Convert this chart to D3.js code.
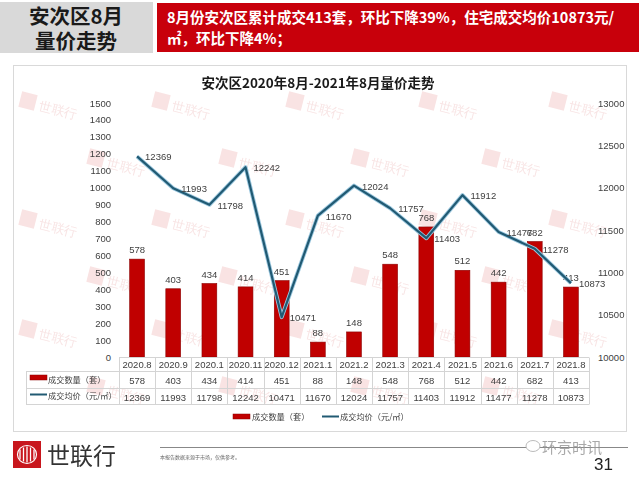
<!DOCTYPE html>
<html><head><meta charset="utf-8">
<script src="https://cdn.jsdelivr.net/npm/d3@7"></script>
<style>
html,body{margin:0;padding:0;background:#fff;}
svg{display:block;font-family:"Noto Sans CJK SC","Noto Sans",sans-serif;}
</style></head>
<body><svg id="c" width="640" height="480"></svg>
<script>
const categories = ["2020.8","2020.9","2020.1","2020.11","2020.12","2021.1","2021.2","2021.3","2021.4","2021.5","2021.6","2021.7","2021.8"];
const volume = [578,403,434,414,451,88,148,548,768,512,442,682,413];
const price = [12369,11993,11798,12242,10471,11670,12024,11757,11403,11912,11477,11278,10873];
const leftTicks = [0,100,200,300,400,500,600,700,800,900,1000,1100,1200,1300,1400,1500];
const rightTicks = [10000,10500,11000,11500,12000,12500,13000];
const seriesNames = ["成交数量（套）","成交均价（元/㎡）"];
const headTitle = ["安次区8月","量价走势"];
const headText = ["8月份安次区累计成交413套，环比下降39%，住宅成交均价10873元/","㎡，环比下降4%；"];
const chartTitle = "安次区2020年8月-2021年8月量价走势";

const svg = d3.select("#c");
const RED = "#c00000", LINE = "#215a73", TXT = "#404040";
const NUMF = "'Liberation Sans','Noto Sans',sans-serif";

// header
svg.append("rect").attr("x",0).attr("y",2).attr("width",153).attr("height",51).attr("fill","#d9d9d9");
svg.append("rect").attr("x",157).attr("y",3).attr("width",482).attr("height",49).attr("fill","#c8000b");
svg.selectAll(".ht").data(headTitle).join("text")
  .attr("x",76).attr("y",(d,i)=>24+i*25).attr("text-anchor","middle")
  .attr("font-size",20.5).attr("font-weight","bold").attr("fill","#1a1a1a").text(d=>d);
svg.selectAll(".hx").data(headText).join("text")
  .attr("x",167).attr("y",(d,i)=>23+i*21)
  .attr("font-size",14.5).attr("font-weight","bold").attr("fill","#fff").text(d=>d);

// chart frame
svg.append("rect").attr("x",13.5).attr("y",65.5).attr("width",613).attr("height",366)
  .attr("fill","#fff").attr("stroke","#d9d9d9");

// watermarks
const wm = svg.append("g").attr("opacity",0.4);
const rowsY = [100,157,218,275,328,385];
rowsY.forEach((y,ri)=>{
  const xs = ri%2===0 ? [20,153,287,420,550] : [88,220,352,483];
  xs.forEach(x=>{
    const g = wm.append("g").attr("transform",`translate(${x},${y}) rotate(14)`);
    g.append("rect").attr("x",0).attr("y",-9).attr("width",16).attr("height",16).attr("fill","#f0b9b9");
    g.append("text").attr("x",20).attr("y",5).attr("font-size",13).attr("font-family","serif")
      .attr("fill","#eebdbd").text("世联行");
  });
});

// title
svg.append("text").attr("x",318).attr("y",88).attr("text-anchor","middle")
  .attr("font-size",13.5).attr("font-weight","bold").attr("fill","#1a1a1a").text(chartTitle);

// scales
const x = d3.scaleBand().domain(categories).range([119,589]).paddingInner(0.59).paddingOuter(0.295);
const yL = d3.scaleLinear().domain([0,1500]).range([357,103]);
const yR = d3.scaleLinear().domain([10000,13000]).range([357,103]);
const cx = d => x(d)+x.bandwidth()/2;

// axes
const axL = svg.append("g").attr("transform","translate(111,0)")
  .call(d3.axisLeft(yL).tickValues(leftTicks).tickFormat(d3.format("d")).tickSize(0).tickPadding(0));
axL.select(".domain").remove();
axL.selectAll("text").attr("font-size",9.5).attr("fill",TXT).attr("font-family",NUMF);
const axR = svg.append("g").attr("transform","translate(598,0)")
  .call(d3.axisRight(yR).tickValues(rightTicks).tickFormat(d3.format("d")).tickSize(0).tickPadding(0));
axR.select(".domain").remove();
axR.selectAll("text").attr("font-size",9.5).attr("fill",TXT).attr("font-family",NUMF);

// bars
svg.append("g").selectAll("rect").data(volume).join("rect")
  .attr("x",(d,i)=>x(categories[i])).attr("width",x.bandwidth())
  .attr("y",d=>yL(d)).attr("height",d=>yL(0)-yL(d))
  .attr("fill",RED).attr("stroke","#8c0000").attr("stroke-width",0.6);
svg.append("g").selectAll("text").data(volume).join("text")
  .attr("x",(d,i)=>cx(categories[i])).attr("y",d=>yL(d)-6)
  .attr("text-anchor","middle").attr("font-size",9.5).attr("fill",TXT)
  .attr("font-family",NUMF).text(d=>d);

// line
const lineGen = d3.line().x((d,i)=>cx(categories[i])).y(d=>yR(d));
svg.append("path").datum(price).attr("d",lineGen).attr("fill","none")
  .attr("stroke","#9cc8df").attr("stroke-width",4).attr("stroke-linejoin","round");
svg.append("path").datum(price).attr("d",lineGen).attr("fill","none")
  .attr("stroke",LINE).attr("stroke-width",2.2).attr("stroke-linejoin","round");
svg.append("g").selectAll("text").data(price).join("text")
  .attr("x",(d,i)=>cx(categories[i])+8).attr("y",d=>yR(d)+4)
  .attr("font-size",9.5).attr("fill",TXT)
  .attr("font-family",NUMF).text(d=>d);

// data table
const tbl = svg.append("g").attr("stroke","#d4d4d4").attr("stroke-width",1);
const step = x.step();
const x0 = 119, x1 = 589;
[357.5].forEach(y=>tbl.append("line").attr("x1",x0).attr("x2",x1).attr("y1",y).attr("y2",y));
[371.5,388.5,404.5].forEach(y=>tbl.append("line").attr("x1",26).attr("x2",x1).attr("y1",y).attr("y2",y));
tbl.append("line").attr("x1",26.5).attr("x2",26.5).attr("y1",371.5).attr("y2",404.5);
d3.range(categories.length+1).forEach(i=>{
  const xx = Math.round(x0+i*step)+0.5;
  tbl.append("line").attr("x1",xx).attr("x2",xx).attr("y1",357.5).attr("y2",404.5);
});
svg.append("g").selectAll("text").data(categories).join("text")
  .attr("x",d=>cx(d)).attr("y",368).attr("text-anchor","middle")
  .attr("font-size",9.5).attr("fill",TXT).attr("font-family",NUMF).text(d=>d);
svg.append("g").selectAll("text").data(volume).join("text")
  .attr("x",(d,i)=>cx(categories[i])).attr("y",384).attr("text-anchor","middle")
  .attr("font-size",9.5).attr("fill",TXT).attr("font-family",NUMF).text(d=>d);
svg.append("g").selectAll("text").data(price).join("text")
  .attr("x",(d,i)=>cx(categories[i])).attr("y",400.5).attr("text-anchor","middle")
  .attr("font-size",9.5).attr("fill",TXT).attr("font-family",NUMF).text(d=>d);
// table legend keys
svg.append("rect").attr("x",30).attr("y",375).attr("width",17).attr("height",5).attr("fill",RED).attr("stroke","#8c0000").attr("stroke-width",0.5);
svg.append("line").attr("x1",30).attr("x2",47).attr("y1",394.5).attr("y2",394.5).attr("stroke",LINE).attr("stroke-width",2);
svg.append("text").attr("x",48).attr("y",382.5).attr("font-size",8.2).attr("fill",TXT).text(seriesNames[0]);
svg.append("text").attr("x",48).attr("y",399).attr("font-size",8.2).attr("fill",TXT).text(seriesNames[1]);

// bottom legend
svg.append("rect").attr("x",233).attr("y",414).attr("width",17).attr("height",5).attr("fill",RED).attr("stroke","#8c0000").attr("stroke-width",0.5);
svg.append("text").attr("x",252).attr("y",419.5).attr("font-size",8.2).attr("fill",TXT).text(seriesNames[0]);
svg.append("line").attr("x1",322).attr("x2",339).attr("y1",416.5).attr("y2",416.5).attr("stroke",LINE).attr("stroke-width",2);
svg.append("text").attr("x",340).attr("y",419.5).attr("font-size",8.2).attr("fill",TXT).text(seriesNames[1]);

// footer
const lg = svg.append("g");
lg.append("rect").attr("x",13).attr("y",441).attr("width",28).attr("height",27).attr("fill","#c8161d");
[[-7,5],[-3.5,7],[0,8],[3.5,7],[7,5]].forEach(([dx,h])=>{
  lg.append("line").attr("x1",27+dx).attr("x2",27+dx).attr("y1",454.5-h).attr("y2",454.5+h)
    .attr("stroke","#fff").attr("stroke-width",1.3);
});
lg.append("ellipse").attr("cx",27).attr("cy",454.5).attr("rx",9.5).attr("ry",9).attr("fill","none").attr("stroke","#fff").attr("stroke-width",1.2);
svg.append("text").attr("x",47).attr("y",464).attr("font-size",23).attr("fill","#333").text("世联行");
svg.append("line").attr("x1",160).attr("x2",628).attr("y1",447.5).attr("y2",447.5).attr("stroke","#888").attr("stroke-width",1);
svg.append("text").attr("x",160).attr("y",459).attr("font-size",5).attr("fill","#666").text("本报告数据来源于市场，仅供参考。");
svg.append("ellipse").attr("cx",533).attr("cy",446).attr("rx",7).attr("ry",5.5).attr("fill","#fff").attr("stroke","#bbb").attr("stroke-width",1);
svg.append("text").attr("x",542).attr("y",453).attr("font-size",15).attr("fill","#9a9a9a").attr("opacity",0.85).text("环京时讯");
svg.append("text").attr("x",613).attr("y",470).attr("text-anchor","end").attr("font-size",17).attr("fill","#222").attr("font-family",NUMF).text("31");
</script></body></html>
